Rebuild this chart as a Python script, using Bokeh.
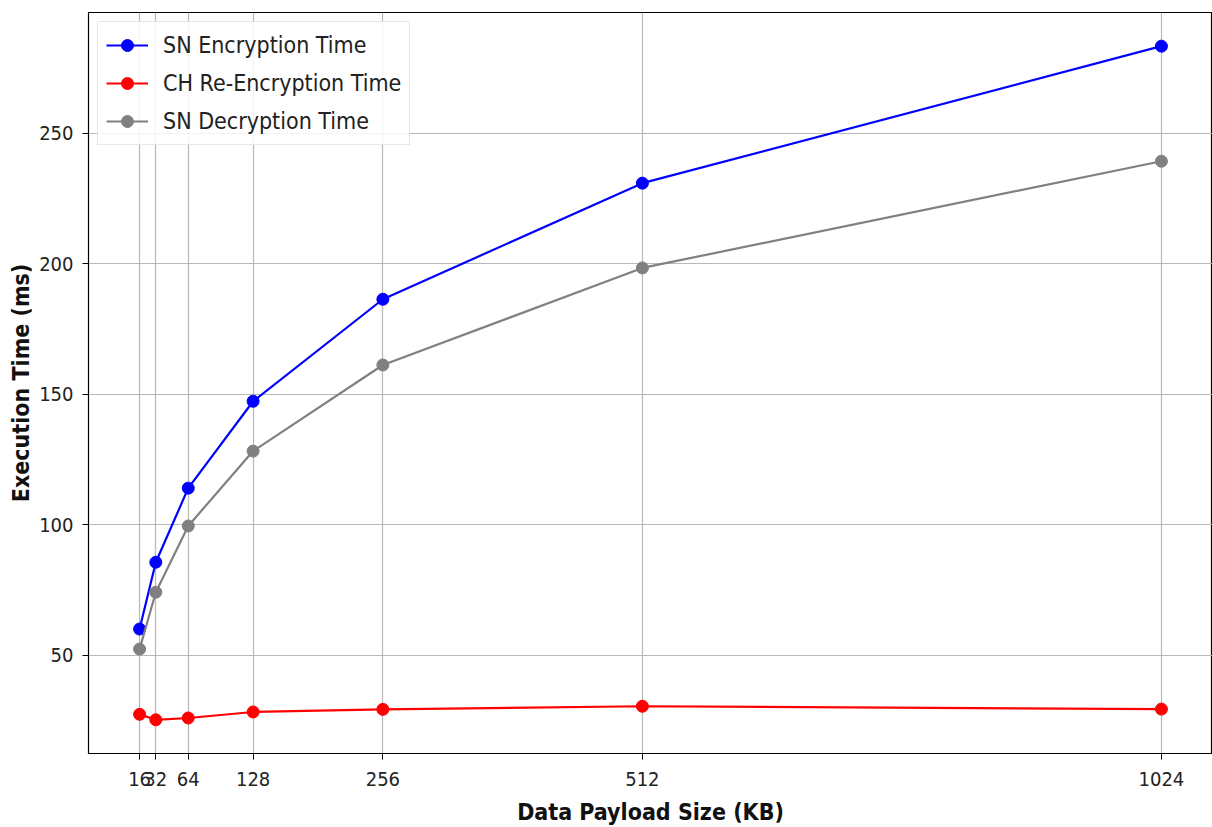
from bokeh.plotting import figure
from bokeh.models import Range1d, FixedTicker, Legend, LegendItem
from bokeh.embed import file_html
from bokeh.resources import INLINE

# Payload sizes (KB) and measured execution times (ms)
payload_kb = [16, 32, 64, 128, 256, 512, 1024]
sn_encryption = [60.0, 85.6, 114.0, 147.3, 186.4, 230.9, 283.4]
ch_reencryption = [27.3, 25.2, 25.9, 28.2, 29.2, 30.4, 29.3]
sn_decryption = [52.3, 74.1, 99.5, 128.2, 161.2, 198.4, 239.3]

x_ticks = [16, 32, 64, 128, 256, 512, 1024]
y_ticks = [50, 100, 150, 200, 250]

FONT = "DejaVu Sans Condensed"

# 5% padding around the data, as in a default matplotlib axes
x_pad = 0.05 * (max(payload_kb) - min(payload_kb))
all_y = sn_encryption + ch_reencryption + sn_decryption
y_pad = 0.05 * (max(all_y) - min(all_y))

p = figure(
    width=1212, height=827,
    output_backend="svg", toolbar_location=None,
    x_range=Range1d(min(payload_kb) - x_pad, max(payload_kb) + x_pad),
    y_range=Range1d(min(all_y) - y_pad, max(all_y) + y_pad),
    min_border_left=88, min_border_right=0, min_border_top=12, min_border_bottom=73,
)
p.background_fill_color = "white"
p.border_fill_color = "white"
p.outline_line_color = "black"
p.outline_line_width = 1.2

p.xaxis.ticker = FixedTicker(ticks=x_ticks)
p.yaxis.ticker = FixedTicker(ticks=y_ticks)
p.xaxis.major_label_overrides = {t: str(t) for t in x_ticks}

for ax in (p.xaxis, p.yaxis):
    ax.minor_tick_line_color = None
    ax.major_tick_in = 0
    ax.major_tick_out = 6
    ax.major_tick_line_color = "black"
    ax.axis_line_color = "black"
    ax.major_label_text_font = FONT
    ax.major_label_text_font_size = "20px"
    ax.major_label_text_color = "#222222"
    ax.axis_label_text_font = FONT
    ax.axis_label_text_font_size = "23px"
    ax.axis_label_text_font_style = "bold"
    ax.axis_label_text_color = "#111111"

p.xaxis.axis_label = "Data Payload Size (KB)"
p.yaxis.axis_label = "Execution Time (ms)"
p.xaxis.major_label_standoff = 12
p.yaxis.major_label_standoff = 9
p.xaxis.axis_label_standoff = 10
p.yaxis.axis_label_standoff = 2

p.xgrid.ticker = FixedTicker(ticks=x_ticks)
p.ygrid.ticker = FixedTicker(ticks=y_ticks)
for g in (p.xgrid, p.ygrid):
    g.grid_line_color = "#b0b0b0"
    g.grid_line_width = 1.2
    g.grid_line_alpha = 0.9

series = [
    ("SN Encryption Time", sn_encryption, "#0000ff"),
    ("CH Re-Encryption Time", ch_reencryption, "#ff0000"),
    ("SN Decryption Time", sn_decryption, "#808080"),
]

items = []
for label, ys, color in series:
    ln = p.line(payload_kb, ys, line_color=color, line_width=2.2)
    mk = p.scatter(payload_kb, ys, marker="circle", size=12,
                   fill_color=color, line_color=color)
    items.append(LegendItem(label=label, renderers=[ln, mk]))

legend = Legend(items=items, location="top_left")
legend.margin = 9
legend.padding = 8
legend.spacing = 8
legend.glyph_width = 42
legend.glyph_height = 30
legend.label_height = 30
legend.label_standoff = 15
legend.label_text_font = FONT
legend.label_text_font_size = "23px"
legend.label_text_color = "#222222"
legend.border_line_color = "#d0d0d0"
legend.border_line_width = 1
legend.background_fill_color = "white"
legend.background_fill_alpha = 0.85
p.add_layout(legend)

open("out.html", "w").write(file_html(p, INLINE))
